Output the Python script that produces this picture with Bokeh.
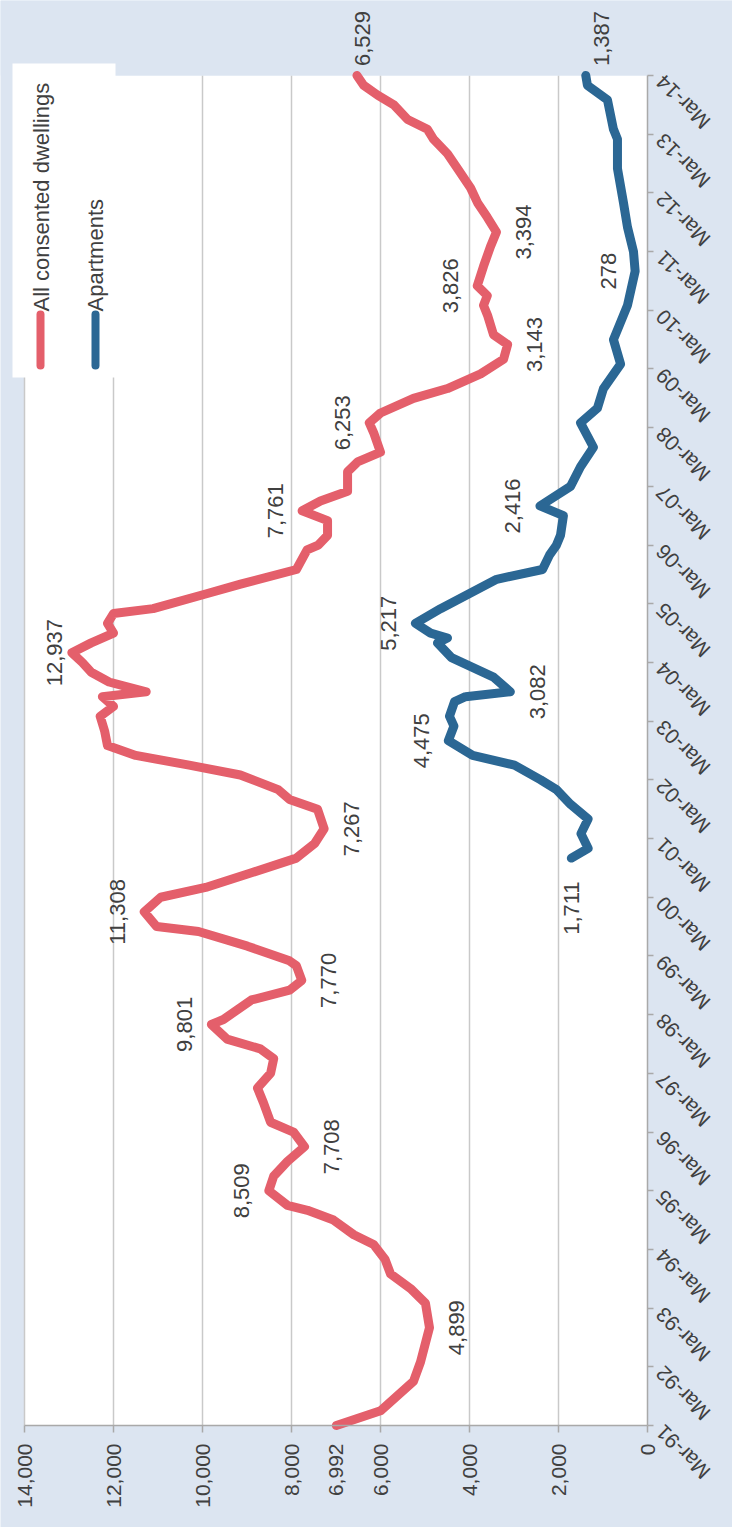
from math import pi
from bokeh.plotting import figure
from bokeh.models import Range1d, LinearAxis, FixedTicker, NumeralTickFormatter
from bokeh.core.properties import value
from bokeh.embed import file_html
from bokeh.resources import INLINE

# ---------------- data (months counted from Mar-1991) ----------------
all_months = [0, 3, 9, 13, 20, 25, 28, 31, 34, 37, 39, 42, 44, 45, 48, 51, 54, 57, 60, 62,
              66, 69, 72, 75, 77, 79, 82, 83, 87, 89, 91, 94, 95, 98, 101, 102, 105, 108, 110, 113,
              116, 119, 122, 126, 128, 130, 133, 135, 137, 139, 142, 145, 147, 149, 150, 152, 154, 156, 158, 160,
              162, 164, 166, 167, 170, 172, 175, 179, 180, 182, 185, 187, 189, 191, 195, 197, 199, 203, 205, 207,
              210, 212, 215, 218, 221, 223, 227, 229, 231, 233, 237, 241, 244, 247, 250, 253, 257, 260, 263, 265,
              267, 270, 272, 274, 276]
all_values = [6992, 6000, 5260, 5100, 4899, 4990, 5325, 5775, 5900, 6155, 6600, 7055, 7640, 8090, 8509, 8400, 8090, 7708, 7955, 8470,
              8630, 8765, 8470, 8400, 8700, 9450, 9801, 9530, 8900, 8045, 7770, 7890, 8045, 8990, 10090, 11030, 11308, 10940, 9930, 8900,
              7890, 7480, 7267, 7415, 8045, 8300, 9150, 10300, 11500, 12135, 12200, 12300, 12000, 12250, 11265, 12100, 12500, 12700, 12937, 12500,
              12000, 12135, 12000, 11110, 9930, 9145, 7890, 7650, 7400, 7190, 7190, 7761, 7350, 6740, 6740, 6515, 6000, 6155, 6253, 6000,
              5260, 4495, 3750, 3235, 3143, 3460, 3595, 3685, 3600, 3826, 3685, 3530, 3394, 3600, 3820, 3975, 4270, 4495, 4810, 4945,
              5390, 5700, 6065, 6380, 6529]

apt_months = [116, 118, 121, 124, 127, 130, 132, 135, 137, 140, 143, 145, 148, 149, 150, 153, 157, 160, 161, 162,
              164, 167, 170, 173, 175, 178, 180, 182, 186, 188, 192, 196, 200, 205, 208, 212, 217, 222, 229, 236,
              240, 245, 250, 257, 263, 265, 271, 274, 276]
apt_values = [1711, 1335, 1495, 1335, 1730, 2045, 2400, 2990, 3930, 4475, 4350, 4450, 4335, 4090, 3082, 3460, 4405, 4720, 4495, 4875,
              5217, 4650, 4020, 3390, 2360, 2200, 2045, 1955, 1890, 2416, 1730, 1505, 1215, 1505, 1125, 990, 605, 765, 450, 278,
              315, 450, 540, 675, 675, 765, 900, 1350, 1387]

time_tick_months = list(range(0, 277, 12))
time_tick_labels = ["Mar-91", "Mar-92", "Mar-93", "Mar-94", "Mar-95", "Mar-96", "Mar-97", "Mar-98",
                    "Mar-99", "Mar-00", "Mar-01", "Mar-02", "Mar-03", "Mar-04", "Mar-05", "Mar-06",
                    "Mar-07", "Mar-08", "Mar-09", "Mar-10", "Mar-11", "Mar-12", "Mar-13", "Mar-14"]
value_ticks = [0, 2000, 4000, 6000, 8000, 10000, 12000, 14000]
first_value = 6992

all_label_months = [20, 48, 57, 82, 91, 105, 122, 158, 187, 205, 221, 233, 244, 276]
all_label_values = [4899, 8509, 7708, 9801, 7770, 11308, 7267, 12937, 7761, 6253, 3143, 3826, 3394, 6529]
apt_label_months = [116, 140, 150, 164, 188, 236, 276]
apt_label_values = [1711, 4475, 3082, 5217, 2416, 278, 1387]

series_names = ["All consented dwellings", "Apartments"]

# ---------------- styling / layout ----------------
all_label_sides = ["R", "L", "R", "L", "R", "L", "R", "L2", "L", "L", "R", "L", "R", "T"]
apt_label_sides = ["B", "L", "R", "L", "L", "L", "T2"]
SIDE_OFFSETS = {"R": (27, 0), "L": (-27, 0), "L2": (-17, 0), "T": (6, -37), "T2": (16, -37),
                "B": (0, 50)}

RED = "#e45f6b"
BLUE = "#2b6794"
BG = "#dce5f1"
GRID = "#c9c9c9"
AXIS = "#a9a9a9"
TXT = "#404040"
FONT = "Liberation Sans"

W, H = 732, 1527
PL, PR, PT, PB = 24, 647, 75, 1425   # pixel edges of the plotting area
VAL_MAX = value_ticks[-1]
M_MAX = time_tick_months[-1]
px_per_val = (PR - PL) / VAL_MAX
px_per_m = (PB - PT) / M_MAX


def px_val(px):
    return (PR - px) / px_per_val


def py_m(py):
    return (PB - py) / px_per_m


p = figure(width=W, height=H, output_backend="svg", toolbar_location=None,
           x_range=Range1d(px_val(0), px_val(W)), y_range=Range1d(py_m(H), py_m(0)),
           x_axis_location=None, y_axis_location=None,
           min_border_left=0, min_border_right=0, min_border_top=0, min_border_bottom=0)
p.background_fill_color = BG
p.border_fill_color = BG
p.outline_line_color = None
p.xgrid.visible = False
p.ygrid.visible = False
p.xgrid.grid_line_color = None
p.ygrid.grid_line_color = None

# white plotting area
p.quad(left=[VAL_MAX], right=[0], bottom=[0], top=[M_MAX], fill_color="white",
       line_color=None, level="image")

# grid lines, limited to the plotting area
grid_ticks = value_ticks[1:]
p.segment(x0=grid_ticks, x1=grid_ticks, y0=[0] * len(grid_ticks), y1=[M_MAX] * len(grid_ticks),
          line_color=GRID, line_width=1.5, level="underlay")

# background band above the plotting area
p.quad(left=[px_val(0)], right=[px_val(W)], bottom=[M_MAX], top=[py_m(0)],
       fill_color=BG, line_color=None)

# value axis (bottom edge of plotting area)
xaxis = LinearAxis(fixed_location=0,
                   ticker=FixedTicker(ticks=value_ticks + [first_value], minor_ticks=value_ticks),
                   formatter=NumeralTickFormatter(format="0,0"), bounds=(0, VAL_MAX),
                   major_label_orientation=pi / 2, major_tick_in=0, major_tick_out=0,
                   minor_tick_in=0, minor_tick_out=7, major_label_standoff=11,
                   axis_line_color=AXIS, axis_line_width=1.5, minor_tick_line_color=AXIS,
                   minor_tick_line_width=1.5,
                   major_label_text_font=FONT, major_label_text_font_size="21px",
                   major_label_text_color=TXT)
p.add_layout(xaxis, "below")

# time axis (right edge of plotting area)
yaxis = LinearAxis(fixed_location=0, ticker=FixedTicker(ticks=time_tick_months), bounds=(0, M_MAX),
                   major_tick_in=0, major_tick_out=6, minor_tick_in=0, minor_tick_out=0,
                   axis_line_color=AXIS, axis_line_width=1.5, major_tick_line_color=AXIS,
                   major_tick_line_width=1.5, major_label_text_color=None)
p.add_layout(yaxis, "right")

# time tick labels
p.text(x=[0] * len(time_tick_months), y=time_tick_months, text=time_tick_labels,
       angle=3 * pi / 4, text_align="right", text_baseline="middle", x_offset=12, y_offset=3,
       text_font=value(FONT), text_font_size="21px", text_color=TXT)

# series
p.line(all_values, all_months, line_color=RED, line_width=9, line_join="round", line_cap="round")
p.line(apt_values, apt_months, line_color=BLUE, line_width=9, line_join="round", line_cap="round")

# data labels
for months, vals, sides in [(all_label_months, all_label_values, all_label_sides),
                            (apt_label_months, apt_label_values, apt_label_sides)]:
    p.text(x=vals, y=months, text=[f"{v:,}" for v in vals], angle=pi / 2,
           x_offset=[SIDE_OFFSETS[s][0] for s in sides], y_offset=[SIDE_OFFSETS[s][1] for s in sides],
           text_align="center", text_baseline="middle",
           text_font=value(FONT), text_font_size="22px", text_color=TXT)

# legend
p.quad(left=[px_val(12)], right=[px_val(115)], top=[py_m(63)], bottom=[py_m(377)],
       fill_color="white", line_color=None)
p.segment(x0=[px_val(40), px_val(95)], x1=[px_val(40), px_val(95)],
          y0=[py_m(365)] * 2, y1=[py_m(314)] * 2, line_color=[RED, BLUE], line_width=8, line_cap="round")
p.text(x=[px_val(41), px_val(95)], y=[py_m(311)] * 2, text=series_names, angle=pi / 2,
       text_align="left", text_baseline="middle",
       text_font=value(FONT), text_font_size="22px", text_color=TXT)

open("out.html", "w").write(file_html(p, INLINE))
